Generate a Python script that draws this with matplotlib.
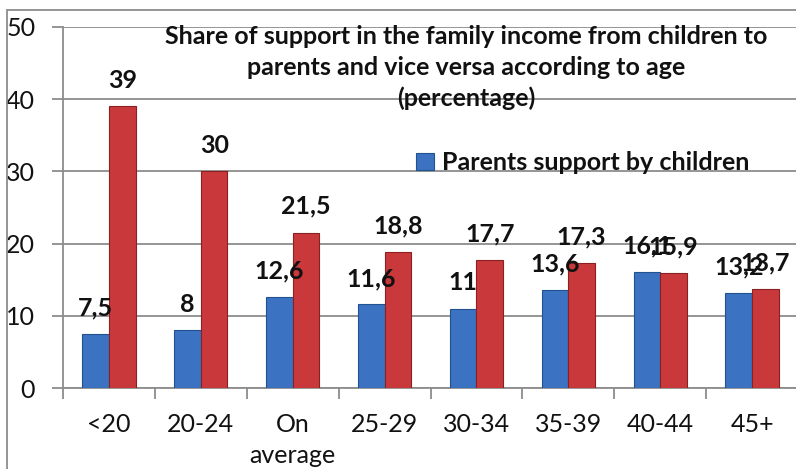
import matplotlib
matplotlib.use("Agg")
import matplotlib.pyplot as plt
import numpy as np
from matplotlib.patches import Rectangle

categories = ["<20", "20-24", "On\naverage", "25-29", "30-34", "35-39", "40-44", "45+"]
parents_by_children = [7.5, 8, 12.6, 11.6, 11, 13.6, 16.1, 13.2]
children_by_parents = [39, 30, 21.5, 18.8, 17.7, 17.3, 15.9, 13.7]
series_names = ["Parents support by children", "Children support by parents"]
title = "Share of support in the family income from children to\nparents and vice versa according to age\n(percentage)"

plt.rcParams['font.family'] = ['Lato', 'DejaVu Sans']

W, H = 796, 469
fig = plt.figure(figsize=(W / 100, H / 100), dpi=100)
fig.patch.set_facecolor("white")

# outer chart border (extends beyond the cropped image on the right/bottom)
fig.patches.append(Rectangle((7 / W, -0.05), 1.2, (469 - 10) / H + 0.05,
                             transform=fig.transFigure, fill=False,
                             edgecolor="#8c8c8c", linewidth=1.3))

left, right, top, bottom = 63, 798, 27, 388
ax = fig.add_axes([left / W, (H - bottom) / H, (right - left) / W, (bottom - top) / H])

FS = 18
x = np.arange(len(categories))
bw = 0.29
blue = "#3b73c2"
red = "#c9393b"
ax.bar(x - bw / 2, parents_by_children, bw, color=blue, edgecolor="#23508f",
       linewidth=0.8, zorder=3, label=series_names[0])
ax.bar(x + bw / 2, children_by_parents, bw, color=red, edgecolor="#8a2022",
       linewidth=0.8, zorder=3, label=series_names[1])

def fmt(v):
    return ("%g" % v).replace(".", ",")

for xi, v in zip(x - bw / 2, parents_by_children):
    ax.annotate(fmt(v), (xi, v), xytext=(0, 18.5), textcoords="offset points",
                ha="center", va="center", fontsize=FS, fontweight="bold",
                color="#111111", zorder=5)
for xi, v in zip(x + bw / 2, children_by_parents):
    ax.annotate(fmt(v), (xi, v), xytext=(0, 19), textcoords="offset points",
                ha="center", va="center", fontsize=FS, fontweight="bold",
                color="#111111", zorder=5)

ax.set_xlim(-0.5, len(categories) - 0.5)
ax.set_ylim(0, 50)
ax.set_yticks([0, 10, 20, 30, 40, 50])
ax.yaxis.grid(True, color="#8c8c8c", linewidth=1.3, zorder=0)
ax.set_axisbelow(True)
for s in ["top", "right"]:
    ax.spines[s].set_visible(False)
for s in ["left", "bottom"]:
    ax.spines[s].set_color("#8c8c8c")
    ax.spines[s].set_linewidth(1.3)

ax.set_xticks(x)
ax.set_xticklabels(categories, fontsize=FS, color="#111111", linespacing=1.42)
ax.set_xticks(np.arange(len(categories) + 1) - 0.5, minor=True)
ax.tick_params(axis="x", which="major", length=0, pad=18)
ax.tick_params(axis="x", which="minor", length=8, width=1.3, color="#8c8c8c")
ax.tick_params(axis="y", length=8, width=1.3, color="#8c8c8c", labelsize=FS,
               labelcolor="#111111", pad=12)
for lbl in ax.get_xticklabels():
    lbl.set_verticalalignment("top")

fig.text(466 / W, 1 - 25 / H, title, ha="center", va="top", fontsize=FS,
         fontweight="bold", color="#111111", linespacing=1.4)

h, l = ax.get_legend_handles_labels()
leg = ax.legend([h[0]], [l[0]], loc="center left",
                bbox_to_anchor=(416 / W, 1 - 163 / H), bbox_transform=fig.transFigure,
                frameon=False, prop={"size": FS, "weight": "bold"},
                handlelength=0.7, handleheight=0.7, handletextpad=0.35,
                borderpad=0, borderaxespad=0)
for t in leg.get_texts():
    t.set_color("#111111")

fig.savefig("out.png", dpi=100)
